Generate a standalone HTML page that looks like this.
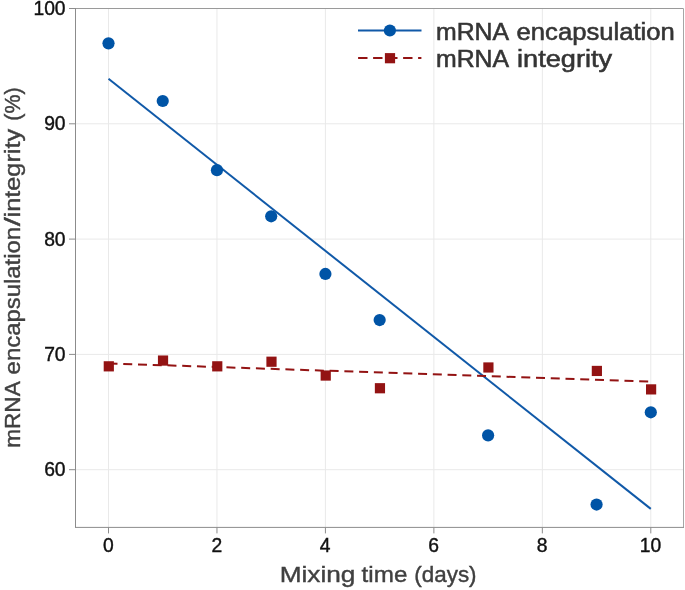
<!DOCTYPE html>
<html><head><meta charset="utf-8"><title>mRNA encapsulation/integrity vs mixing time</title>
<style>html,body{margin:0;padding:0;background:#fff}svg{display:block}text{font-family:"Liberation Sans",sans-serif}</style></head><body>
<svg width="685" height="590" viewBox="0 0 685 590">
<rect width="685" height="590" fill="#fff"/>
<g stroke="#e9e9e9" stroke-width="1"><line x1="108.50" y1="8.5" x2="108.50" y2="527.4"/><line x1="216.96" y1="8.5" x2="216.96" y2="527.4"/><line x1="325.42" y1="8.5" x2="325.42" y2="527.4"/><line x1="433.88" y1="8.5" x2="433.88" y2="527.4"/><line x1="542.34" y1="8.5" x2="542.34" y2="527.4"/><line x1="650.80" y1="8.5" x2="650.80" y2="527.4"/><line x1="75.5" y1="469.70" x2="683.5" y2="469.70"/><line x1="75.5" y1="354.40" x2="683.5" y2="354.40"/><line x1="75.5" y1="239.10" x2="683.5" y2="239.10"/><line x1="75.5" y1="123.80" x2="683.5" y2="123.80"/></g>
<g stroke-width="1" fill="none"><line x1="75.5" y1="8.5" x2="683.5" y2="8.5" stroke="#9a9a9a"/><line x1="683.5" y1="8.5" x2="683.5" y2="527.4" stroke="#a6a6a6"/><line x1="75.5" y1="8.0" x2="75.5" y2="527.9" stroke="#8c8c8c"/><line x1="75.5" y1="527.4" x2="684.0" y2="527.4" stroke="#8c8c8c"/></g>
<g stroke="#8c8c8c" stroke-width="1"><line x1="108.50" y1="527.4" x2="108.50" y2="533.4"/><line x1="216.96" y1="527.4" x2="216.96" y2="533.4"/><line x1="325.42" y1="527.4" x2="325.42" y2="533.4"/><line x1="433.88" y1="527.4" x2="433.88" y2="533.4"/><line x1="542.34" y1="527.4" x2="542.34" y2="533.4"/><line x1="650.80" y1="527.4" x2="650.80" y2="533.4"/><line x1="69.0" y1="469.70" x2="75.5" y2="469.70"/><line x1="69.0" y1="354.40" x2="75.5" y2="354.40"/><line x1="69.0" y1="239.10" x2="75.5" y2="239.10"/><line x1="69.0" y1="123.80" x2="75.5" y2="123.80"/><line x1="69.0" y1="8.50" x2="75.5" y2="8.50"/></g>
<g font-size="19.3" fill="#111" stroke="#111" stroke-width="0.4"><text x="108.30" y="552.0" text-anchor="middle">0</text><text x="216.76" y="552.0" text-anchor="middle">2</text><text x="325.22" y="552.0" text-anchor="middle">4</text><text x="433.68" y="552.0" text-anchor="middle">6</text><text x="542.14" y="552.0" text-anchor="middle">8</text><text x="650.60" y="552.0" text-anchor="middle">10</text><text x="65.6" y="476.20" text-anchor="end">60</text><text x="65.6" y="360.90" text-anchor="end">70</text><text x="65.6" y="245.60" text-anchor="end">80</text><text x="65.6" y="130.30" text-anchor="end">90</text><text x="65.6" y="15.00" text-anchor="end">100</text></g>
<line x1="108.50" y1="78.83" x2="650.80" y2="508.90" stroke="#1059a8" stroke-width="2"/>
<line x1="108.50" y1="363.39" x2="650.80" y2="381.61" stroke="#931313" stroke-width="2" stroke-dasharray="9 5.75"/>
<g fill="#0054A6"><circle cx="108.50" cy="43.34" r="6.1"/><circle cx="162.73" cy="100.99" r="6.1"/><circle cx="216.96" cy="170.17" r="6.1"/><circle cx="271.19" cy="216.29" r="6.1"/><circle cx="325.42" cy="273.94" r="6.1"/><circle cx="379.65" cy="320.06" r="6.1"/><circle cx="488.11" cy="435.36" r="6.1"/><circle cx="596.57" cy="504.54" r="6.1"/><circle cx="650.80" cy="412.30" r="6.1"/></g>
<g fill="#931313"><rect x="103.70" y="361.23" width="10.2" height="10.2"/><rect x="157.93" y="355.46" width="10.2" height="10.2"/><rect x="212.16" y="361.23" width="10.2" height="10.2"/><rect x="266.39" y="356.62" width="10.2" height="10.2"/><rect x="320.62" y="370.45" width="10.2" height="10.2"/><rect x="374.85" y="383.14" width="10.2" height="10.2"/><rect x="483.31" y="362.38" width="10.2" height="10.2"/><rect x="591.77" y="365.84" width="10.2" height="10.2"/><rect x="646.00" y="384.29" width="10.2" height="10.2"/></g>
<line x1="358" y1="30.5" x2="421.5" y2="30.5" stroke="#1059a8" stroke-width="2"/><circle cx="389.9" cy="30.5" r="6.1" fill="#0054A6"/>
<line x1="358.1" y1="58" x2="421.4" y2="58" stroke="#931313" stroke-width="2" stroke-dasharray="9.4 5.6"/><rect x="384.9" y="53.1" width="10.2" height="10.2" fill="#931313"/>
<g font-size="23.0" fill="#353535" stroke="#353535" stroke-width="0.55"><text x="435.98" y="40.2" textLength="73.07" lengthAdjust="spacingAndGlyphs">mRNA</text><text x="516.59" y="40.2" textLength="158.23" lengthAdjust="spacingAndGlyphs">encapsulation</text></g>
<g font-size="23.0" fill="#353535" stroke="#353535" stroke-width="0.55"><text x="435.98" y="67.3" textLength="73.07" lengthAdjust="spacingAndGlyphs">mRNA</text><text x="517.03" y="67.3" textLength="95.13" lengthAdjust="spacingAndGlyphs">integrity</text></g>
<g font-size="22.4" fill="#404040" stroke="#404040" stroke-width="0.4"><text x="279.65" y="581.8" textLength="75.75" lengthAdjust="spacingAndGlyphs">Mixing</text><text x="361.63" y="581.8" textLength="45.72" lengthAdjust="spacingAndGlyphs">time</text><text x="414.3" y="581.8" textLength="62.27" lengthAdjust="spacingAndGlyphs">(days)</text></g>
<g font-size="22.2" fill="#404040" stroke="#404040" stroke-width="0.4" transform="translate(19.8 446.3) rotate(-90)"><text x="-1.53" y="0" textLength="66.51" lengthAdjust="spacingAndGlyphs">mRNA</text><text x="71.92" y="0" textLength="147.53" lengthAdjust="spacingAndGlyphs">encapsulation</text><text x="220.0" y="0" textLength="9.15" lengthAdjust="spacingAndGlyphs">/</text><text x="228.89" y="0" textLength="88.56" lengthAdjust="spacingAndGlyphs">integrity</text><text x="325.65" y="0" textLength="33.27" lengthAdjust="spacingAndGlyphs">(%)</text></g>
</svg></body></html>
